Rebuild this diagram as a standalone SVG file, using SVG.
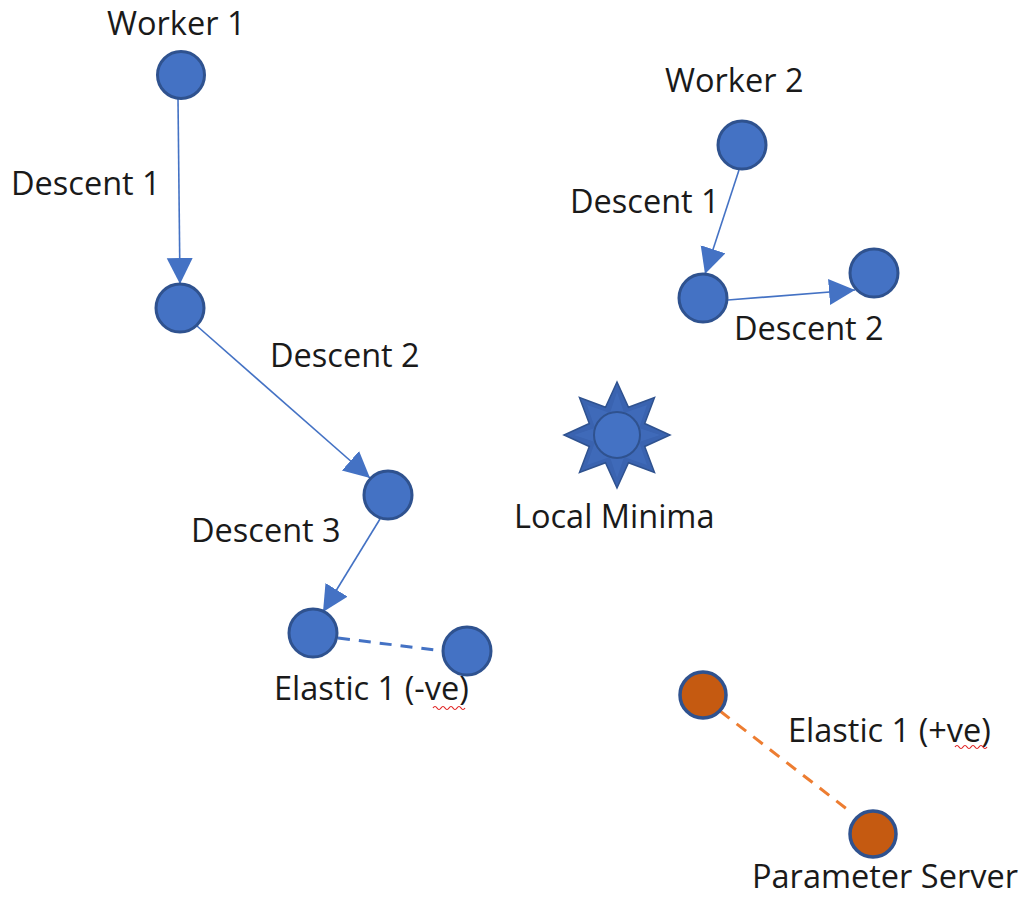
<svg xmlns="http://www.w3.org/2000/svg" width="1029" height="898" viewBox="0 0 1029 898">
<style>
.lbl{font-family:"Open Sans","Liberation Sans",sans-serif;font-size:32.5px;fill:#1a1a1a}
.node{fill:#4472C4;stroke:#2F528F;stroke-width:3}
.ps{fill:#C55A11;stroke:#2F528F;stroke-width:3.5}
.arr{stroke:#4472C4;stroke-width:1.6;fill:none;marker-end:url(#ah)}
.dashb{stroke:#4472C4;stroke-width:3;stroke-dasharray:12 9;fill:none}
.dasho{stroke:#ED7D31;stroke-width:3;stroke-dasharray:12 9;fill:none}
.sq{stroke:#e02020;stroke-width:1.2;fill:none}
</style>
<defs>
<marker id="ah" markerUnits="userSpaceOnUse" markerWidth="28" markerHeight="28" refX="26" refY="13" orient="auto">
<path d="M0,0 L26,13 L0,26 Z" fill="#4472C4"/>
</marker>
</defs>
<rect width="1029" height="898" fill="#ffffff"/>
<g id="connectors">
<line class="arr" x1="178" y1="99" x2="180" y2="284"/>
<line class="arr" x1="197" y1="326" x2="370" y2="478"/>
<line class="arr" x1="380" y1="519" x2="323" y2="612"/>
<line class="arr" x1="739" y1="170" x2="705" y2="274"/>
<line class="arr" x1="728" y1="300" x2="855" y2="290"/>
<line class="dashb" x1="338" y1="638" x2="443" y2="651"/>
<line class="dasho" x1="720" y1="711" x2="852" y2="813"/>
</g>
<g id="worker1">
<circle class="node" cx="181" cy="75" r="23.5"/>
<text class="lbl" x="107" y="35">Worker 1</text>
</g>
<g id="w1-step1">
<circle class="node" cx="180" cy="308" r="24"/>
<text class="lbl" x="11" y="195">Descent 1</text>
</g>
<g id="w1-step2">
<circle class="node" cx="388" cy="495" r="24"/>
<text class="lbl" x="270" y="367">Descent 2</text>
</g>
<g id="w1-step3">
<circle class="node" cx="313" cy="633" r="24"/>
<text class="lbl" x="191" y="542">Descent 3</text>
</g>
<g id="w1-elastic">
<circle class="node" cx="467" cy="651" r="24"/>
<text class="lbl" x="274" y="700">Elastic 1 (-ve)</text>
<path class="sq" d="M433,708 q2,-3 4,0 t4,0 t4,0 t4,0 t4,0 t4,0 t4,0 t4,0"/>
</g>
<g id="worker2">
<circle class="node" cx="742" cy="145" r="24"/>
<text class="lbl" x="665" y="92">Worker 2</text>
</g>
<g id="w2-step1">
<circle class="node" cx="703" cy="298" r="24"/>
<text class="lbl" x="570" y="213">Descent 1</text>
</g>
<g id="w2-step2">
<circle class="node" cx="874" cy="273" r="24"/>
<text class="lbl" x="734" y="340">Descent 2</text>
</g>
<g id="local-minima">
<polygon points="617,382 628.5,407.3 654.5,397.5 644.7,423.5 670,435 644.7,446.5 654.5,472.5 628.5,462.7 617,488 605.5,462.7 579.5,472.5 589.3,446.5 564,435 589.3,423.5 579.5,397.5 605.5,407.3" fill="#3A63B0" stroke="#2F528F" stroke-width="1.5"/>
<polygon points="617,392 624,413 647,405 639,428 660,435 639,442 647,465 624,457 617,478 610,457 587,465 595,442 574,435 595,428 587,405 610,413" fill="#4270BF" opacity="0.6"/>
<circle cx="617" cy="435" r="23" fill="#4472C4" stroke="#2F528F" stroke-width="2"/>
<text class="lbl" x="514" y="528">Local Minima</text>
</g>
<g id="elastic-pos">
<circle class="ps" cx="703" cy="695" r="23"/>
<text class="lbl" x="788" y="742">Elastic 1 (+ve)</text>
<path class="sq" d="M955,747 q2,-3 4,0 t4,0 t4,0 t4,0 t4,0 t4,0 t4,0 t4,0"/>
</g>
<g id="parameter-server">
<circle class="ps" cx="873" cy="834" r="23"/>
<text class="lbl" x="752" y="888">Parameter Server</text>
</g>
</svg>
